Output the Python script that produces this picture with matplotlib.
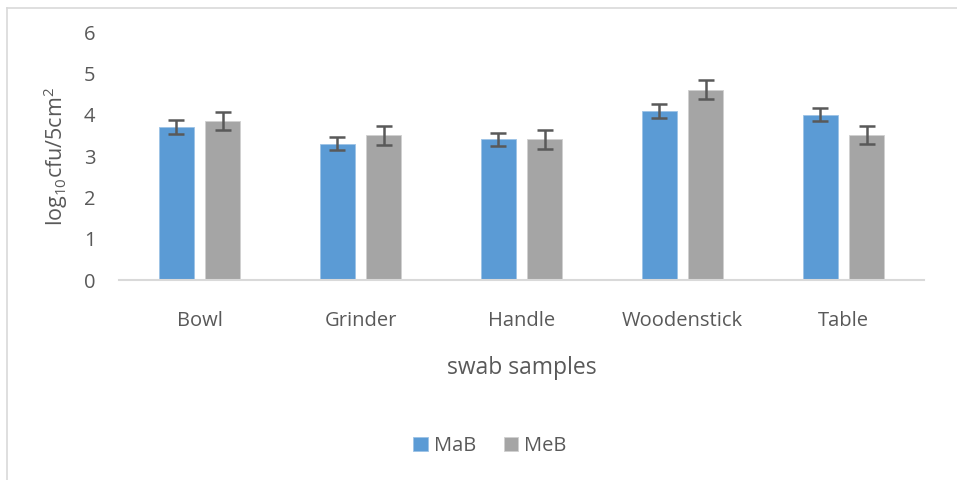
import numpy as np
import matplotlib
matplotlib.use("Agg")
import matplotlib.pyplot as plt
from matplotlib.lines import Line2D

# Datos
muestras = ["Bowl", "Grinder", "Handle", "Woodenstick", "Table"]
mab = [3.7, 3.3, 3.4, 4.1, 4.0]
meb = [3.85, 3.5, 3.4, 4.6, 3.5]
mab_err = [0.17, 0.16, 0.16, 0.17, 0.16]
meb_err = [0.22, 0.23, 0.22, 0.23, 0.22]

plt.rcParams['font.family'] = ['Open Sans', 'DejaVu Sans']
plt.rcParams['mathtext.fontset'] = 'custom'
plt.rcParams['mathtext.rm'] = 'Open Sans'
plt.rcParams['mathtext.it'] = 'Open Sans'

gris_texto = "#595959"
azul = "#5b9bd5"
gris = "#a5a5a5"

fig = plt.figure(figsize=(9.57, 4.8), dpi=100)
ax = fig.add_axes([119 / 957, 1 - 280 / 480, (924 - 119) / 957, (280 - 32) / 480])

x = np.arange(len(muestras))
ancho = 0.22
desp = 0.143

ax.bar(x - desp, mab, ancho, color=azul, edgecolor="#9dc3e6", linewidth=0.6, label="MaB", zorder=2)
ax.bar(x + desp, meb, ancho, color=gris, edgecolor="#d0d0d0", linewidth=0.6, label="MeB", zorder=2)
ax.errorbar(x - desp, mab, yerr=mab_err, fmt="none", ecolor=gris_texto, elinewidth=1.8, capsize=5.5, capthick=1.8, zorder=3)
ax.errorbar(x + desp, meb, yerr=meb_err, fmt="none", ecolor=gris_texto, elinewidth=1.8, capsize=5.5, capthick=1.8, zorder=3)

ax.set_xlim(-0.5, len(muestras) - 0.5)
ax.set_ylim(0, 6)
ax.set_yticks(range(0, 7))
ax.set_xticks(x)
ax.set_xticklabels(muestras)

for s in ["top", "right", "left"]:
    ax.spines[s].set_visible(False)
ax.spines["bottom"].set_color("#d9d9d9")
ax.spines["bottom"].set_linewidth(1.5)
ax.tick_params(axis="both", length=0, colors=gris_texto, labelsize=14.5)
ax.tick_params(axis="x", pad=22)
ax.tick_params(axis="y", pad=17)

ax.set_xlabel("swab samples", fontsize=16.5, color=gris_texto, labelpad=18)
ax.set_ylabel(r"log$_{10}$cfu/5cm$^{2}$", fontsize=15.5, color=gris_texto, labelpad=10)

fig.legend(loc="center", bbox_to_anchor=(490 / 957, 1 - 446 / 480), ncol=2, frameon=False,
           fontsize=14.5, labelcolor=gris_texto, handlelength=0.7, handleheight=0.7,
           handletextpad=0.3, columnspacing=1.4)

# borde del area del grafico
fig.add_artist(Line2D([7 / 957, 7 / 957], [0, 1 - 8 / 480], transform=fig.transFigure, color="#d9d9d9", lw=1.2))
fig.add_artist(Line2D([7 / 957, 1], [1 - 8 / 480, 1 - 8 / 480], transform=fig.transFigure, color="#d9d9d9", lw=1.2))

fig.savefig("out.png", dpi=100)
